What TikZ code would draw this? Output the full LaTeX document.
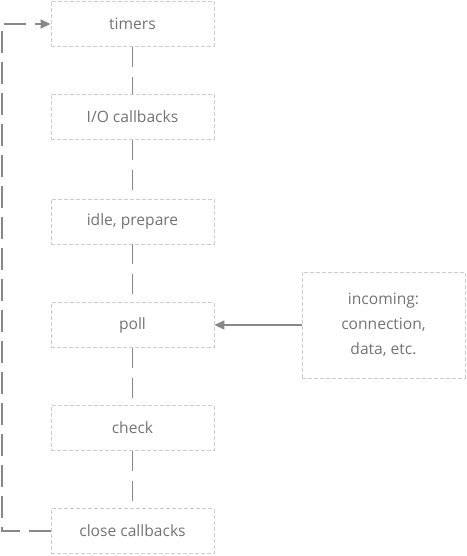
\documentclass[tikz,border=0pt]{standalone}
\usepackage{fontspec}
\setmainfont{Open Sans}
\usetikzlibrary{arrows.meta}
\definecolor{boxline}{HTML}{CCCCCC}
\definecolor{conn}{HTML}{888888}
\definecolor{txt}{HTML}{737373}
\tikzset{
  phase/.style={draw=boxline, dash pattern=on 4pt off 2pt, line width=0.8pt,
    minimum width=163pt, minimum height=45pt, inner sep=0pt,
    text=txt, font=\fontsize{15.6}{25}\selectfont, align=center},
  link/.style={draw=conn, line width=1.5pt, dash pattern=on 20pt off 10pt},
  feed/.style={draw=conn, line width=1.3pt, -{Triangle[length=10pt,width=9pt]}},
  loopback/.style={draw=conn, line width=1.5pt, dash pattern=on 22pt off 9pt, -{Triangle[length=10pt,width=9pt]}}
}
\begin{document}
\begin{tikzpicture}[x=1pt,y=-1pt]
\useasboundingbox (0,0) rectangle (466,556);
\node[phase] (timers) at (132.5,24) {timers};
\node[phase] (io) at (132.5,117) {I/O callbacks};
\node[phase] (idle) at (132.5,221.5) {idle, prepare};
\node[phase] (poll) at (132.5,325) {poll};
\node[phase] (check) at (132.5,428) {check};
\node[phase] (close) at (132.5,531) {close callbacks};
\node[phase, minimum height=106pt] (incoming) at (383.5,325) {incoming:\\connection,\\data, etc.};
\draw[link] (timers.south) -- (io.north);
\draw[link] (io.south) -- (idle.north);
\draw[link] (idle.south) -- (poll.north);
\draw[link] (poll.south) -- (check.north);
\draw[link] (check.south) -- (close.north);
\draw[feed] (incoming.west) -- (poll.east);
\coordinate (bl) at (2,531);
\coordinate (tl) at (2,24);
\draw[loopback] (close.west) -- (bl) -- (tl) -- (timers.west);
\end{tikzpicture}
\end{document}
